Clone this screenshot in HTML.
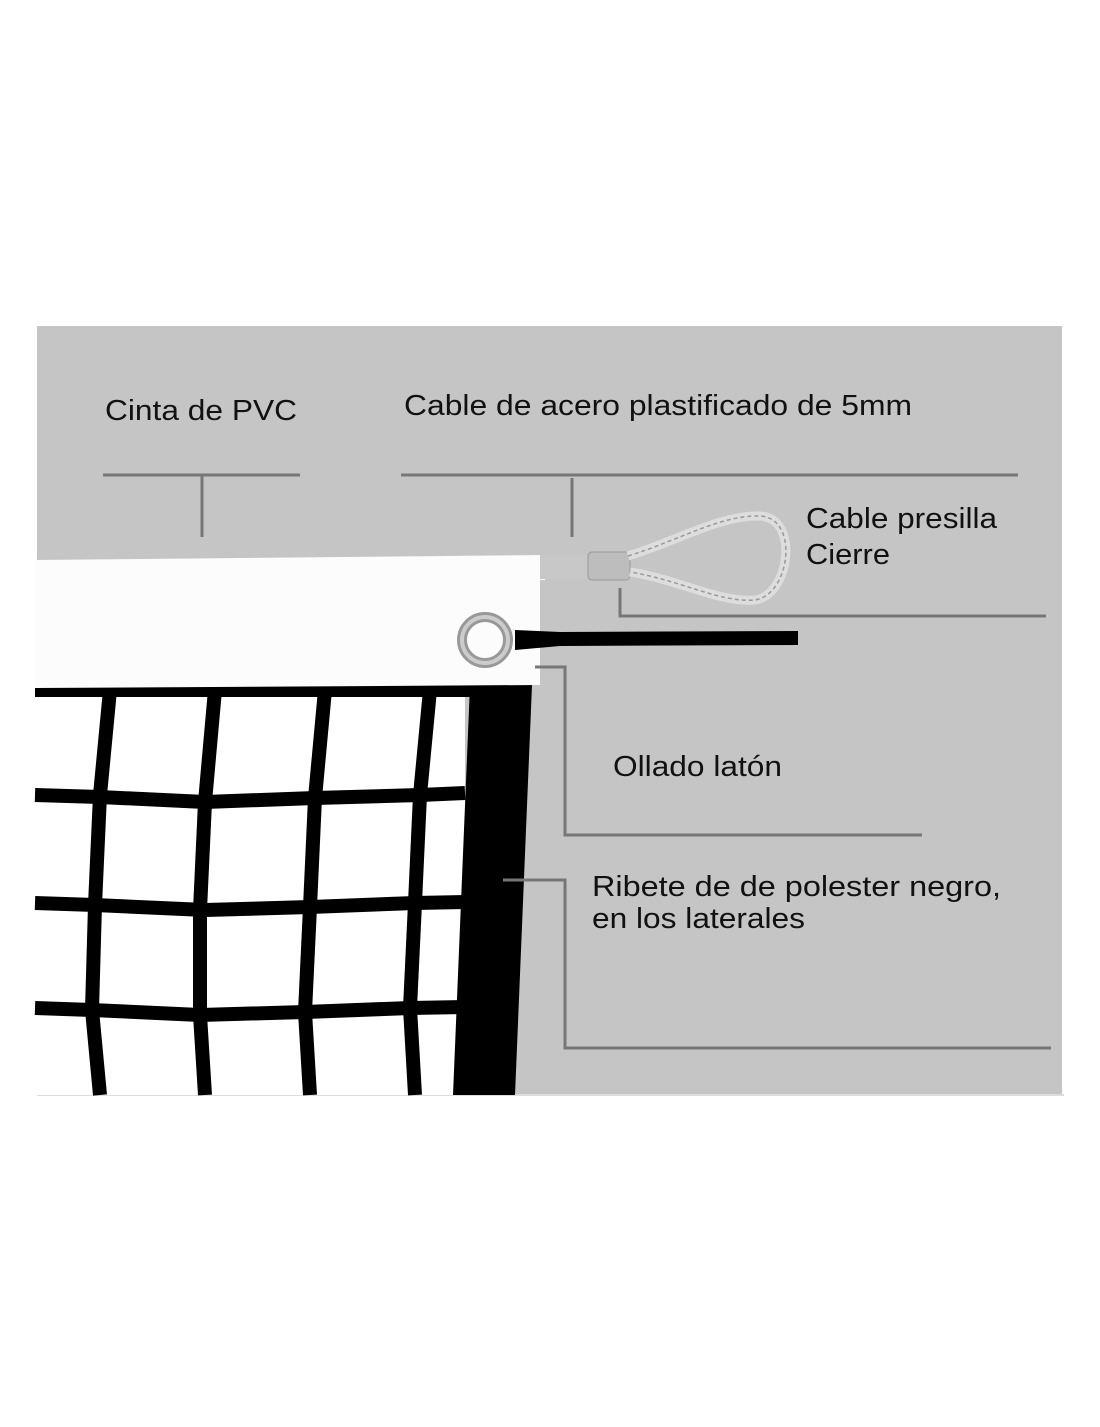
<!DOCTYPE html>
<html><head><style>
body{margin:0;background:#fff;width:1100px;height:1422px;overflow:hidden;font-family:"Liberation Sans",sans-serif}
</style></head><body>
<svg width="1100" height="1422" viewBox="0 0 1100 1422" xmlns="http://www.w3.org/2000/svg">
<rect x="37" y="326" width="1025" height="769" fill="#c5c5c5"/>
<line x1="37" y1="1095" x2="1064" y2="1095" stroke="#ddd" stroke-width="2"/>
<rect x="35" y="688" width="430" height="407" fill="#fff"/>
<g stroke="#000" stroke-width="14" fill="none" stroke-linejoin="round">
<polyline points="35,690 470,690"/>
<polyline points="35,795 100,797 205,802 315,798 420,795 465,793"/>
<polyline points="35,903 95,905 205,910 310,907 415,903 465,902"/>
<polyline points="35,1008 92,1010 200,1015 305,1012 410,1008 465,1007"/>
<polyline points="110,690 100,795 95,905 92,1010 100,1095"/>
<polyline points="215,690 205,802 200,910 200,1015 205,1095"/>
<polyline points="325,690 315,798 310,907 305,1012 310,1095"/>
<polyline points="430,690 420,795 415,903 410,1008 415,1095"/>
</g>
<polygon points="470,685 532,685 515,1095 453,1095" fill="#000"/>
<polygon points="35,560 545,555 545,580 540,580 540,685 35,688" fill="#fcfcfc"/>
<rect x="540" y="555" width="60" height="24" fill="#c8c8c8"/>
<rect x="588" y="552" width="42" height="28" rx="4" fill="#bdbdbd" stroke="#999" stroke-width="1"/>
<path d="M628,556 C680,540 720,515 760,516 C800,518 790,595 755,600 C720,603 680,580 630,572" fill="none" stroke="#ddd" stroke-width="9"/>
<path d="M628,556 C680,540 720,515 760,516 C800,518 790,595 755,600 C720,603 680,580 630,572" fill="none" stroke="#999" stroke-width="1.5" stroke-dasharray="4 3"/>
<circle cx="485" cy="640" r="23" fill="none" stroke="#999" stroke-width="10"/>
<circle cx="485" cy="640" r="23" fill="none" stroke="#ccc" stroke-width="4"/>
<path d="M515,630 L560,632 L798,631 L798,645 L560,646 L515,650 Z" fill="#000"/>
<g stroke="#777" stroke-width="3" fill="none">
<line x1="103" y1="475" x2="300" y2="475"/>
<line x1="202" y1="475" x2="202" y2="537"/>
<line x1="401" y1="475" x2="1018" y2="475"/>
<line x1="572" y1="478" x2="572" y2="537"/>
<polyline points="620,588 620,616 1046,616"/>
<polyline points="535,667 565,667 565,835 922,835"/>
<polyline points="503,880 565,880 565,1048 1051,1048"/>
</g>
<g font-size="29" fill="#111" lengthAdjust="spacingAndGlyphs">
<text x="105" y="420" textLength="192" lengthAdjust="spacingAndGlyphs">Cinta de PVC</text>
<text x="404" y="415" textLength="508" lengthAdjust="spacingAndGlyphs">Cable de acero plastificado de 5mm</text>
<text x="806" y="528" textLength="191" lengthAdjust="spacingAndGlyphs">Cable presilla</text>
<text x="806" y="564" textLength="84" lengthAdjust="spacingAndGlyphs">Cierre</text>
<text x="613" y="776" textLength="169" lengthAdjust="spacingAndGlyphs">Ollado latón</text>
<text x="592" y="896" textLength="409" lengthAdjust="spacingAndGlyphs">Ribete de  de polester negro,</text>
<text x="592" y="928" textLength="213" lengthAdjust="spacingAndGlyphs">en los laterales</text>
</g>
</svg>
</body></html>
